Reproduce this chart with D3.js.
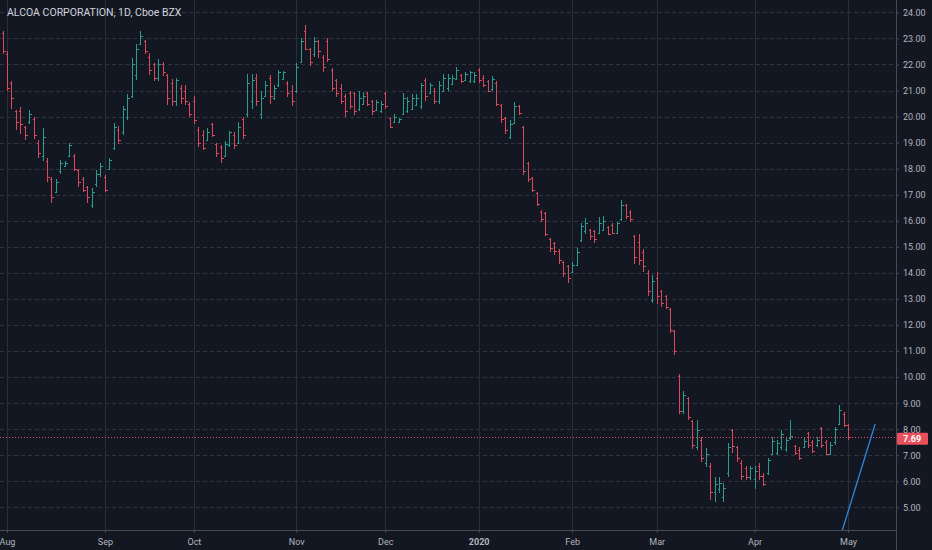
<!DOCTYPE html>
<html>
<head>
<meta charset="utf-8">
<title>ALCOA CORPORATION, 1D, Cboe BZX</title>
<script src="https://cdn.jsdelivr.net/npm/d3@7"></script>
<style>
  body { margin: 0; background: #131722; }
  svg { display: block; }
  .axis text { font-family: Roboto, "Noto Sans", sans-serif; font-size: 9px; fill: #b2b5be; }
  .axis .domain, .axis .tick line { stroke: #464a55; }
  .grid-h line { stroke: #30343f; stroke-dasharray: 4,3; }
  .grid-v line { stroke: #2a2e39; }
</style>
</head>
<body>
<div id="chart"></div>
<script>
// session range and market holidays (daily bars, weekends skipped)
var firstDay = "2019-07-31",
    lastDay = "2020-05-01";
var holidays = ["2019-09-02", "2019-11-28", "2019-12-25", "2020-01-01",
                "2020-01-20", "2020-02-17", "2020-04-10"];

// OHLC, one value per trading day
var opens = [
  23.2, 22.4, 21.3, 20.2, 20.2, 19.6, 19.8, 19.9, 19.0, 18.5,
  18.3, 17.6, 17.1, 17.9, 18.1, 18.5, 18.5, 17.95, 17.6, 17.3,
  16.6, 17.4, 17.8, 17.7, 18.0, 18.8, 19.5, 19.4, 20.0, 20.8,
  21.6, 22.8, 22.9, 22.3, 22.0, 21.5, 22.0, 21.6, 21.3, 20.6,
  21.1, 21.0, 20.5, 20.6, 19.5, 19.3, 19.1, 19.7, 18.95, 18.85,
  18.5, 18.9, 19.3, 19.0, 19.9, 20.1, 20.6, 21.5, 20.1, 20.8,
  21.5, 20.7, 21.2, 21.45, 21.3, 21.0, 21.0, 22.1, 23.3, 22.6,
  22.4, 22.9, 22.3, 22.9, 21.8, 21.4, 21.1, 20.8, 20.9, 20.9,
  20.3, 20.5, 20.9, 20.6, 20.25, 20.2, 20.9, 19.95, 19.8, 19.8,
  20.1, 20.2, 20.3, 20.45, 20.4, 21.4, 20.9, 21.0, 20.6, 21.0,
  21.1, 21.25, 21.45, 21.6, 21.4, 21.35, 21.35, 21.8, 21.5, 21.35,
  21.05, 21.3, 20.45, 19.95, 19.2, 19.75, 20.4, 19.6, 18.2, 17.65,
  17.05, 16.35, 16.3, 15.3, 15.15, 14.85, 14.4, 14.25, 14.05, 14.3,
  15.25, 15.6, 15.65, 15.6, 15.55, 15.65, 15.75, 15.85, 15.55, 16.05,
  16.6, 16.35, 15.4, 15.2, 14.8, 14.0, 12.95, 13.8, 13.3, 13.1,
  12.6, 11.75, 10.05, 8.7, 9.2, 8.3, 7.3, 7.6, 6.7, 6.6,
  5.6, 5.7, 5.4, 6.3, 7.95, 7.3, 6.7, 6.5, 6.15, 6.1,
  6.6, 6.2, 6.3, 7.05, 7.1, 7.3, 7.25, 7.65, 7.35, 7.2,
  7.3, 7.85, 7.5, 7.4, 8.05, 7.5, 7.05, 7.5, 8.2, 8.6,
  8.15
];
var highs = [
  23.3, 22.5, 21.35, 20.25, 20.35, 19.65, 20.25, 20.0, 19.1, 19.55,
  18.4, 17.7, 17.6, 18.35, 18.3, 19.0, 18.55, 18.0, 17.7, 17.35,
  17.25, 17.95, 18.2, 17.75, 18.4, 19.75, 19.65, 20.4, 20.85, 22.25,
  22.8, 23.3, 22.95, 22.45, 22.05, 22.2, 22.1, 21.65, 21.45, 21.5,
  21.2, 21.2, 20.55, 20.8, 19.6, 19.5, 19.55, 19.75, 19.0, 18.9,
  19.05, 19.45, 19.4, 19.8, 20.0, 21.65, 21.65, 21.65, 21.0, 21.35,
  21.6, 21.2, 21.8, 21.75, 21.35, 21.2, 22.05, 23.0, 23.5, 22.65,
  23.05, 22.95, 22.35, 23.0, 21.85, 21.45, 21.25, 20.85, 21.0, 20.95,
  21.0, 20.95, 20.95, 20.65, 20.65, 20.6, 20.95, 20.0, 20.1, 19.95,
  20.9, 20.75, 20.85, 20.85, 21.3, 21.5, 21.3, 21.1, 21.35, 21.65,
  21.65, 21.6, 21.9, 21.65, 21.7, 21.75, 21.7, 21.85, 21.6, 21.4,
  21.55, 21.35, 20.5, 20.0, 19.85, 20.55, 20.45, 19.65, 18.25, 17.7,
  17.1, 16.4, 16.35, 15.35, 15.2, 14.9, 14.45, 14.3, 14.4, 14.95,
  15.9, 16.1, 15.7, 15.65, 16.15, 16.2, 15.8, 15.9, 15.95, 16.8,
  16.65, 16.4, 15.45, 15.5, 14.9, 14.1, 13.9, 14.05, 13.35, 13.15,
  12.65, 11.8, 10.1, 9.45, 9.25, 8.35, 8.35, 7.7, 7.27, 6.7,
  6.18, 6.18, 5.95, 7.48, 8.0, 7.35, 6.8, 6.6, 6.6, 6.6,
  6.7, 6.3, 6.88, 7.7, 7.58, 7.97, 7.7, 8.37, 7.4, 7.33,
  7.65, 7.9, 7.58, 7.7, 8.1, 7.58, 7.5, 8.1, 8.92, 8.67,
  8.2
];
var lows = [
  22.4, 21.0, 20.3, 19.5, 19.35, 19.1, 19.7, 19.15, 18.4, 18.3,
  17.5, 16.7, 17.05, 17.8, 18.05, 18.45, 17.9, 17.3, 17.1, 16.7,
  16.5, 17.3, 17.7, 17.1, 17.95, 18.7, 18.95, 19.3, 19.85, 20.7,
  21.4, 22.75, 22.4, 21.6, 21.35, 21.35, 21.55, 20.45, 20.4, 20.4,
  20.5, 20.45, 20.0, 19.7, 18.85, 18.7, 19.05, 19.2, 18.45, 18.2,
  18.45, 18.85, 18.75, 18.95, 19.15, 20.0, 20.3, 20.4, 19.9, 20.75,
  20.5, 20.65, 21.15, 21.4, 20.75, 20.4, 20.9, 22.05, 22.55, 21.95,
  22.3, 22.25, 21.7, 22.1, 21.0, 20.75, 20.5, 20.0, 20.3, 20.05,
  20.2, 20.45, 20.4, 20.05, 20.2, 20.15, 20.3, 19.55, 19.75, 19.75,
  20.05, 20.15, 20.25, 20.4, 20.3, 20.6, 20.85, 20.5, 20.5, 20.95,
  21.0, 21.2, 21.4, 21.3, 21.35, 21.3, 21.3, 21.3, 21.15, 20.95,
  21.0, 20.4, 19.75, 19.35, 19.15, 19.7, 20.05, 17.75, 17.5, 17.1,
  16.55, 15.95, 15.4, 14.8, 14.7, 14.35, 13.85, 13.6, 14.0, 14.25,
  15.2, 15.5, 15.25, 15.15, 15.5, 15.6, 15.45, 15.5, 15.5, 16.0,
  16.05, 15.95, 14.35, 14.3, 14.05, 13.1, 12.85, 12.8, 12.7, 12.6,
  11.7, 10.85, 8.6, 8.6, 8.35, 7.25, 7.2, 6.75, 6.56, 5.28,
  5.22, 5.54, 5.22, 6.18, 7.07, 6.75, 6.05, 6.05, 6.05, 5.7,
  6.05, 5.8, 6.24, 7.0, 7.0, 7.2, 7.13, 7.6, 7.0, 6.8,
  7.26, 7.26, 7.07, 7.33, 7.26, 7.0, 7.0, 7.4, 8.15, 8.1,
  7.58
];
var closes = [
  22.5, 21.1, 20.7, 19.8, 19.7, 19.3, 20.1, 19.3, 18.6, 19.2,
  17.7, 16.9, 17.5, 18.2, 18.2, 18.9, 18.0, 17.5, 17.2, 16.9,
  17.1, 17.8, 18.1, 17.2, 18.35, 19.6, 19.1, 20.3, 20.7, 22.0,
  22.6, 23.1, 22.5, 21.8, 21.5, 22.0, 21.7, 20.7, 20.6, 21.4,
  20.7, 20.6, 20.1, 19.85, 19.0, 18.8, 19.4, 19.3, 18.6, 18.4,
  18.95, 19.4, 18.9, 19.6, 19.3, 21.3, 21.4, 20.6, 20.7, 21.2,
  20.8, 21.1, 21.7, 21.7, 20.9, 20.6, 21.9, 22.9, 22.6, 22.1,
  22.9, 22.5, 21.9, 22.2, 21.1, 20.9, 20.6, 20.2, 20.4, 20.2,
  20.7, 20.8, 20.5, 20.2, 20.55, 20.5, 20.4, 19.6, 20.0, 19.9,
  20.7, 20.6, 20.7, 20.7, 21.2, 20.8, 21.2, 20.6, 21.2, 21.5,
  21.5, 21.5, 21.8, 21.35, 21.65, 21.7, 21.6, 21.4, 21.2, 21.0,
  21.45, 20.5, 19.9, 19.5, 19.7, 20.4, 20.15, 17.9, 17.6, 17.2,
  16.65, 16.05, 15.5, 14.95, 14.85, 14.5, 14.0, 13.8, 14.3, 14.8,
  15.8, 15.9, 15.4, 15.3, 15.9, 16.0, 15.5, 15.55, 15.9, 16.6,
  16.2, 16.05, 14.6, 14.5, 14.25, 13.3, 13.7, 13.1, 12.85, 12.7,
  11.8, 11.0, 8.7, 9.3, 8.45, 7.4, 7.95, 6.9, 7.05, 5.6,
  5.9, 5.95, 5.75, 7.3, 7.35, 6.9, 6.2, 6.15, 6.5, 6.4,
  6.2, 5.9, 6.8, 7.55, 7.45, 7.8, 7.6, 7.75, 7.1, 6.9,
  7.55, 7.4, 7.15, 7.6, 7.4, 7.05, 7.4, 8.0, 8.75, 8.15,
  7.69
];

var monthLabels = ["Aug", "Sep", "Oct", "Nov", "Dec", "2020", "Feb", "Mar", "Apr", "May"];
var priceTicks = [5, 6, 7, 8, 9, 10, 11, 12, 13, 14, 15, 16, 17, 18, 19, 20, 21, 22, 23, 24];
var lastPrice = 7.69;
// hand-drawn trend line, in bar index / price units
var trendIdx = [188.5, 196.1],
    trendPrice = [4.0, 8.2];

var W = 932, H = 550,
    plotW = 896, plotH = 530;

// build the trading calendar
var parse = d3.utcParse("%Y-%m-%d"), fmt = d3.utcFormat("%Y-%m-%d");
var dates = d3.utcDay.range(parse(firstDay), d3.utcDay.offset(parse(lastDay), 1))
    .filter(function(d) {
      var wd = d.getUTCDay();
      return wd !== 0 && wd !== 6 && holidays.indexOf(fmt(d)) < 0;
    });

var bars = dates.map(function(d, i) {
  return {date: d, i: i, o: opens[i], h: highs[i], l: lows[i], c: closes[i]};
});

// first session of each month -> tick positions
var monthTicks = [];
bars.forEach(function(b, i) {
  if (i > 0 && b.date.getUTCMonth() !== bars[i - 1].date.getUTCMonth()) monthTicks.push(i);
});

var x = d3.scaleLinear().domain([-0.57, 200.78]).range([0, plotW]);
var y = d3.scaleLinear().domain([4.129, 24.476]).range([plotH, 0]);

var svg = d3.select("#chart").append("svg")
    .attr("width", W)
    .attr("height", H);

svg.append("rect")
    .attr("width", W)
    .attr("height", H)
    .attr("fill", "#131722");

svg.append("defs").append("clipPath")
    .attr("id", "plot-clip")
  .append("rect")
    .attr("width", plotW)
    .attr("height", plotH);

// grid
svg.append("g")
    .attr("class", "grid-v")
  .selectAll("line")
  .data(monthTicks)
  .enter().append("line")
    .attr("x1", function(d) { return Math.round(x(d)) + 0.5; })
    .attr("x2", function(d) { return Math.round(x(d)) + 0.5; })
    .attr("y1", 0)
    .attr("y2", plotH);

svg.append("g")
    .attr("class", "grid-h")
  .selectAll("line")
  .data(priceTicks)
  .enter().append("line")
    .attr("x1", 0)
    .attr("x2", plotW)
    .attr("y1", function(d) { return Math.round(y(d)) + 0.5; })
    .attr("y2", function(d) { return Math.round(y(d)) + 0.5; });

var plot = svg.append("g").attr("clip-path", "url(#plot-clip)");

// OHLC bars
var bar = plot.append("g")
  .selectAll("g")
  .data(bars)
  .enter().append("g")
    .attr("stroke", function(d) { return d.c >= d.o ? "#2b9c8f" : "#d9495a"; })
    .attr("stroke-width", 1)
    .attr("shape-rendering", "crispEdges");

bar.append("line")
    .attr("x1", function(d) { return Math.round(x(d.i)) + 0.5; })
    .attr("x2", function(d) { return Math.round(x(d.i)) + 0.5; })
    .attr("y1", function(d) { return y(d.h); })
    .attr("y2", function(d) { return y(d.l); });

bar.append("line")
    .attr("x1", function(d) { return Math.round(x(d.i)) - 1.5; })
    .attr("x2", function(d) { return Math.round(x(d.i)) + 0.5; })
    .attr("y1", function(d) { return Math.round(y(d.o)) + 0.5; })
    .attr("y2", function(d) { return Math.round(y(d.o)) + 0.5; });

bar.append("line")
    .attr("x1", function(d) { return Math.round(x(d.i)) + 0.5; })
    .attr("x2", function(d) { return Math.round(x(d.i)) + 2.5; })
    .attr("y1", function(d) { return Math.round(y(d.c)) + 0.5; })
    .attr("y2", function(d) { return Math.round(y(d.c)) + 0.5; });

// last price line
plot.append("line")
    .attr("x1", 0)
    .attr("x2", plotW)
    .attr("y1", Math.round(y(lastPrice)) + 0.5)
    .attr("y2", Math.round(y(lastPrice)) + 0.5)
    .attr("stroke", "#e0505c")
    .attr("stroke-dasharray", "1,2");

// trend line
plot.append("path")
    .datum(d3.zip(trendIdx, trendPrice))
    .attr("fill", "none")
    .attr("stroke", "#2f86dd")
    .attr("stroke-width", 1.3)
    .attr("d", d3.line()
        .x(function(d) { return x(d[0]); })
        .y(function(d) { return y(d[1]); }));

// axes
svg.append("g")
    .attr("class", "axis")
    .attr("transform", "translate(" + plotW + ",0)")
    .call(d3.axisRight(y)
        .tickValues(priceTicks)
        .tickSize(3)
        .tickPadding(4)
        .tickFormat(d3.format(".2f")))
    .call(function(g) { g.select(".domain").attr("d", "M0.5,0V" + H); });

svg.append("g")
    .attr("class", "axis")
    .attr("transform", "translate(0," + plotH + ")")
    .call(d3.axisBottom(x)
        .tickValues(monthTicks)
        .tickSize(3)
        .tickPadding(6)
        .tickFormat(function(d, i) { return monthLabels[i]; }))
    .call(function(g) {
      g.select(".domain").attr("d", "M0,0.5H" + plotW);
      g.selectAll(".tick").filter(function(d, i) { return monthLabels[i] === "2020"; })
          .select("text").attr("font-weight", "bold");
    });

// last price tag, sits just under the 8.00 label as in the original
var tagY = y(lastPrice) + 1;
svg.append("rect")
    .attr("x", plotW + 1)
    .attr("y", tagY - 5.5)
    .attr("width", 31)
    .attr("height", 12)
    .attr("rx", 1)
    .attr("fill", "#e9505c");

svg.append("text")
    .attr("x", plotW + 7)
    .attr("y", tagY + 0.5)
    .attr("dy", "0.35em")
    .attr("font-family", "Roboto, 'Noto Sans', sans-serif")
    .attr("font-size", 9)
    .attr("font-weight", "bold")
    .attr("fill", "#ffffff")
    .text(d3.format(".2f")(lastPrice));

// title
svg.append("text")
    .attr("x", 7)
    .attr("y", 16)
    .attr("font-family", "Roboto, 'Noto Sans', sans-serif")
    .attr("font-size", 10.5)
    .attr("fill", "#d1d4dc")
    .text("ALCOA CORPORATION, 1D, Cboe BZX");
</script>
</body>
</html>
